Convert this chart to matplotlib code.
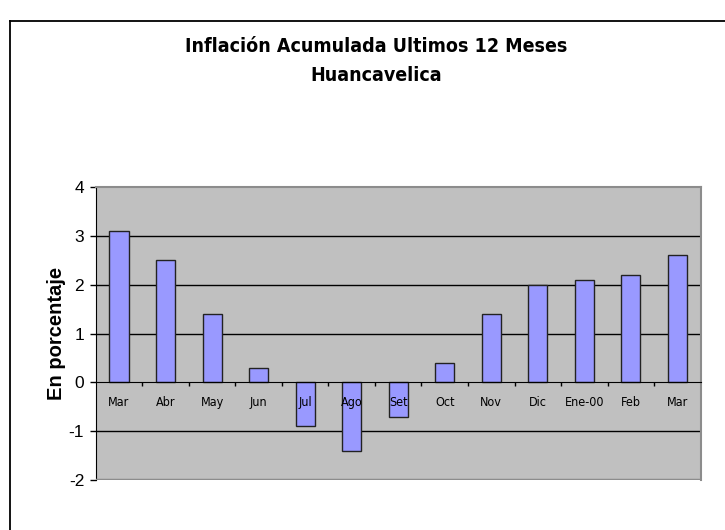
import matplotlib
matplotlib.use("Agg")
import matplotlib.pyplot as plt
from matplotlib import font_manager
from matplotlib.lines import Line2D

meses = ['Mar', 'Abr', 'May', 'Jun', 'Jul', 'Ago', 'Set', 'Oct', 'Nov', 'Dic', 'Ene-00', 'Feb', 'Mar']
inflacion = [3.1, 2.5, 1.4, 0.3, -0.9, -1.4, -0.7, 0.4, 1.4, 2.0, 2.1, 2.2, 2.6]
y_ticks = [-2, -1, 0, 1, 2, 3, 4]


# look for a narrow face (title and category labels look like Arial Narrow)
def find_narrow(bold):
    for f in font_manager.fontManager.ttflist:
        fn = f.fname.lower()
        if ('narrow' in fn or 'condensed' in fn) and 'oblique' not in fn and 'italic' not in fn:
            if bold == ('bold' in fn):
                return font_manager.FontProperties(fname=f.fname)
    return None


title_fp = find_narrow(True) or font_manager.FontProperties(family='Liberation Sans', weight='bold')
label_fp = find_narrow(False) or font_manager.FontProperties(family='Liberation Sans')

plt.rcParams['font.family'] = ['Liberation Sans', 'DejaVu Sans']
plt.rcParams['axes.unicode_minus'] = False

fig = plt.figure(figsize=(7.25, 5.3), dpi=100)
ax = fig.add_axes([0.132, 0.0943, 0.8345, 0.5528])
ax.set_facecolor('#c0c0c0')

x = list(range(len(meses)))
ax.bar(x, inflacion, width=0.41, color='#9999ff', edgecolor='#222222', linewidth=1, zorder=3)

ax.set_xlim(-0.5, len(meses) - 0.5)
ax.set_ylim(y_ticks[0], y_ticks[-1])
ax.set_yticks(y_ticks)
ax.tick_params(axis='y', labelsize=12.5, length=4.3, width=1, pad=4)

# grid lines inside the plot area only
for t in y_ticks[1:-1]:
    if t != 0:
        ax.axhline(t, color='black', linewidth=1, zorder=1)

# bottom spine sits on zero, category labels below it, drawn over the bars
ax.spines['bottom'].set_position(('data', 0))
ax.spines['bottom'].set_zorder(4)
ax.xaxis.set_zorder(6)
ax.set_xticks(x)
ax.set_xticklabels(meses)
lab_fp = label_fp.copy()
lab_fp.set_size(9)
for lab in ax.get_xticklabels():
    lab.set_fontproperties(lab_fp)
ax.tick_params(axis='x', which='major', length=0, pad=10)
ax.set_xticks([i + 0.5 for i in x[:-1]], minor=True)
ax.tick_params(axis='x', which='minor', length=3, width=1, direction='out')

for s in ['top', 'right']:
    ax.spines[s].set_color('#8c8c8c')
    ax.spines[s].set_linewidth(1.5)
ax.axhline(y_ticks[0], color='#8c8c8c', linewidth=2.5, zorder=5)

ax.set_ylabel('En porcentaje', fontsize=14.5, fontweight='bold', labelpad=2)

fig.text(0.519, 0.913, 'Inflación Acumulada Ultimos 12 Meses', ha='center', va='center',
         fontproperties=title_fp, fontsize=14)
fig.text(0.519, 0.858, 'Huancavelica', ha='center', va='center', fontproperties=title_fp, fontsize=14)

# chart-area frame (left and top edges show)
fig.add_artist(Line2D([9.5 / 725, 9.5 / 725], [0, 509 / 530], color='black', linewidth=1.3))
fig.add_artist(Line2D([9.5 / 725, 1], [509 / 530, 509 / 530], color='black', linewidth=1.3))

fig.savefig('out.png', dpi=100)
